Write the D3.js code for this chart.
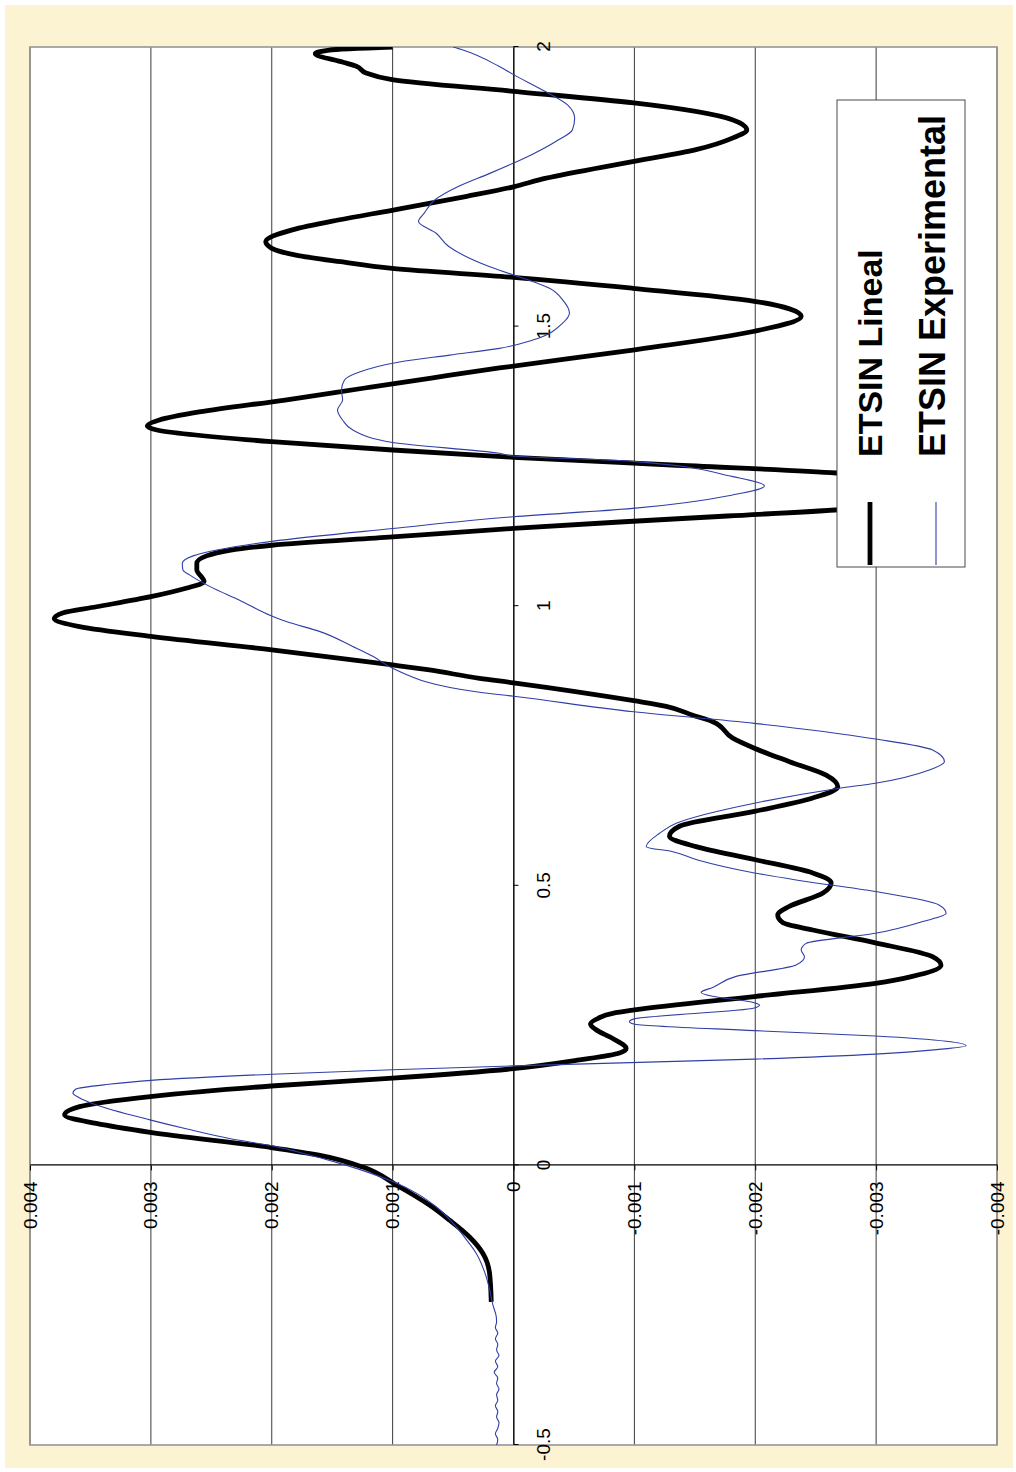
<!DOCTYPE html>
<html>
<head>
<meta charset="utf-8">
<script src="https://cdn.jsdelivr.net/npm/d3@7"></script>
<style>
  html, body { margin: 0; padding: 0; background: #ffffff; }
  svg { display: block; }
  text { font-family: "Liberation Sans", Arial, sans-serif; }
</style>
</head>
<body>
<div id="chart"></div>
<script>
// Axis ticks and their printed labels
const xTicks = [-0.5, 0, 0.5, 1, 1.5, 2];
const xTickLabels = ["-0.5", "0", "0.5", "1", "1.5", "2"];
const yTicks = [0.004, 0.003, 0.002, 0.001, 0, -0.001, -0.002, -0.003, -0.004];
const yTickLabels = ["0.004", "0.003", "0.002", "0.001", "0", "-0.001", "-0.002", "-0.003", "-0.004"];

const seriesNames = ["ETSIN Lineal", "ETSIN Experimental"];

// ETSIN Lineal: [x, y]
const linealData = [
  [-0.244, 0.184e-3], [-0.193, 0.198e-3], [-0.157, 0.254e-3], [-0.128, 0.364e-3],
  [-0.098, 0.529e-3], [-0.071, 0.695e-3], [-0.035, 0.970e-3], [-0.003, 1.246e-3],
  [0.018, 1.60e-3], [0.032, 2.004e-3], [0.059, 3.005e-3], [0.075, 3.452e-3],
  [0.090, 3.714e-3], [0.105, 3.590e-3], [0.123, 3.005e-3], [0.142, 2.004e-3],
  [0.156, 1.000e-3], [0.173, 0], [0.1885, -0.546e-3], [0.201, -0.877e-3],
  [0.209, -0.932e-3], [0.227, -0.821e-3], [0.243, -0.680e-3], [0.253, -0.637e-3],
  [0.263, -0.700e-3], [0.272, -0.821e-3], [0.278, -1.0e-3], [0.302, -1.993e-3],
  [0.3255, -2.994e-3], [0.338, -3.30e-3], [0.358, -3.537e-3], [0.373, -3.47e-3],
  [0.398, -2.994e-3], [0.421, -2.476e-3], [0.434, -2.228e-3], [0.448, -2.186e-3],
  [0.463, -2.28e-3], [0.487, -2.56e-3], [0.505, -2.628e-3], [0.523, -2.476e-3],
  [0.547, -1.993e-3], [0.570, -1.511e-3], [0.5885, -1.29e-3], [0.6065, -1.373e-3],
  [0.633, -1.993e-3], [0.657, -2.476e-3], [0.677, -2.683e-3], [0.698, -2.587e-3],
  [0.722, -2.283e-3], [0.746, -1.993e-3], [0.764, -1.814e-3], [0.7935, -1.648e-3],
  [0.805, -1.483e-3], [0.821, -1.263e-3], [0.831, -0.995e-3], [0.863, 0],
  [0.871, 0.281e-3], [0.886, 0.695e-3], [0.895, 1.0e-3], [0.922, 2.0e-3],
  [0.946, 3.0e-3], [0.9635, 3.59e-3], [0.978, 3.80e-3], [0.988, 3.73e-3],
  [0.999, 3.45e-3], [1.017, 3.0e-3], [1.032, 2.71e-3], [1.044, 2.56e-3],
  [1.065, 2.62e-3], [1.077, 2.62e-3], [1.090, 2.54e-3], [1.100, 2.35e-3],
  [1.109, 2.0e-3], [1.124, 1.0e-3], [1.139, 0], [1.1506, -0.88e-3],
  [1.1613, -1.77e-3], [1.172, -2.66e-3], [1.1828, -3.23e-3], [1.197, -3.48e-3],
  [1.2096, -3.52e-3], [1.2221, -3.36e-3], [1.2307, -3.03e-3], [1.2382, -2.67e-3],
  [1.2525, -1.31e-3], [1.2663, 0], [1.2793, 1.0e-3], [1.2942, 2.0e-3],
  [1.3151, 2.95e-3], [1.3222, 3.03e-3], [1.333, 2.93e-3], [1.3473, 2.60e-3],
  [1.3687, 1.89e-3], [1.3902, 1.23e-3], [1.408, 0.68e-3], [1.426, 0.116e-3],
  [1.458, -0.987e-3], [1.4917, -1.993e-3], [1.518, -2.38e-3], [1.5453, -1.993e-3],
  [1.5685, -0.987e-3], [1.588, 0], [1.604, 1.005e-3], [1.616, 1.43e-3],
  [1.628, 1.80e-3], [1.640, 2.0e-3], [1.652, 2.05e-3], [1.673, 1.83e-3],
  [1.6906, 1.45e-3], [1.708, 1.005e-3], [1.733, 0.386e-3], [1.750, 0],
  [1.765, -0.26e-3], [1.7955, -0.996e-3], [1.8165, -1.51e-3], [1.8375, -1.816e-3],
  [1.8515, -1.93e-3], [1.8695, -1.816e-3], [1.900, -0.996e-3], [1.9207, 0],
  [1.9417, 1.005e-3], [1.9536, 1.22e-3], [1.9655, 1.30e-3], [1.9727, 1.41e-3],
  [1.988, 1.64e-3], [1.9946, 1.525e-3], [2.0, 1.0e-3]
];

// ETSIN Experimental: [x, y]
const experimentalData = [
  [-0.500, 0.14e-3], [-0.49, 0.13e-3], [-0.48, 0.15e-3], [-0.47, 0.13e-3],
  [-0.46, 0.12e-3], [-0.45, 0.14e-3], [-0.44, 0.13e-3], [-0.43, 0.15e-3],
  [-0.42, 0.13e-3], [-0.41, 0.14e-3], [-0.40, 0.12e-3], [-0.39, 0.14e-3],
  [-0.38, 0.13e-3], [-0.37, 0.16e-3], [-0.36, 0.13e-3], [-0.35, 0.15e-3],
  [-0.34, 0.12e-3], [-0.33, 0.14e-3], [-0.32, 0.13e-3], [-0.31, 0.15e-3],
  [-0.30, 0.13e-3], [-0.29, 0.15e-3], [-0.28, 0.14e-3], [-0.27, 0.143e-3],
  [-0.25, 0.17e-3], [-0.22, 0.20e-3], [-0.19, 0.24e-3], [-0.157, 0.309e-3],
  [-0.13, 0.40e-3], [-0.11, 0.474e-3], [-0.074, 0.64e-3], [-0.05, 0.80e-3],
  [-0.029, 1.0e-3], [0.0, 1.38e-3], [0.025, 1.80e-3], [0.035, 2.0e-3],
  [0.048, 2.35e-3], [0.065, 2.70e-3], [0.081, 3.0e-3], [0.108, 3.45e-3],
  [0.122, 3.60e-3], [0.129, 3.645e-3], [0.1365, 3.62e-3], [0.145, 3.35e-3],
  [0.152, 3.0e-3], [0.163, 2.0e-3], [0.171, 1.0e-3], [0.178, 0],
  [0.190, -1.993e-3], [0.199, -2.994e-3], [0.207, -3.5e-3], [0.214, -3.744e-3],
  [0.222, -3.58e-3], [0.2314, -2.994e-3], [0.241, -1.993e-3], [0.253, -0.995e-3],
  [0.257, -0.959e-3], [0.262, -1.0e-3], [0.2814, -1.993e-3], [0.2868, -2.035e-3],
  [0.291, -1.993e-3], [0.3025, -1.648e-3], [0.3094, -1.552e-3], [0.3183, -1.648e-3],
  [0.338, -1.842e-3], [0.3584, -2.338e-3], [0.3733, -2.407e-3], [0.385, -2.38e-3],
  [0.397, -2.42e-3], [0.415, -2.994e-3], [0.436, -3.385e-3], [0.4508, -3.579e-3],
  [0.4658, -3.52e-3], [0.4898, -2.994e-3], [0.5104, -2.338e-3], [0.523, -1.993e-3],
  [0.5462, -1.524e-3], [0.561, -1.318e-3], [0.570, -1.098e-3], [0.5939, -1.208e-3],
  [0.6117, -1.346e-3], [0.6477, -1.993e-3], [0.6745, -2.696e-3], [0.6835, -2.994e-3],
  [0.7071, -3.44e-3], [0.7219, -3.565e-3], [0.7428, -3.468e-3], [0.7625, -2.994e-3],
  [0.7905, -1.993e-3], [0.8112, -0.995e-3], [0.839, 0], [0.846, 0.281e-3],
  [0.889, 1.0e-3], [0.910, 1.16e-3], [0.928, 1.33e-3], [0.9545, 1.60e-3],
  [0.9725, 1.88e-3], [0.9825, 2.0e-3], [1.011, 2.27e-3], [1.035, 2.51e-3],
  [1.056, 2.68e-3], [1.065, 2.735e-3], [1.077, 2.74e-3], [1.090, 2.65e-3],
  [1.116, 2.0e-3], [1.139, 1.0e-3], [1.160, 0], [1.175, -0.987e-3],
  [1.199, -1.814e-3], [1.215, -2.076e-3], [1.2317, -1.814e-3], [1.259, -0.987e-3],
  [1.2686, 0], [1.2734, 0.116e-3], [1.2928, 1.0e-3], [1.3151, 1.329e-3],
  [1.333, 1.414e-3], [1.351, 1.456e-3], [1.3687, 1.414e-3], [1.3866, 1.423e-3],
  [1.4045, 1.398e-3], [1.4188, 1.274e-3], [1.4367, 0.943e-3], [1.449, 0.529e-3],
  [1.4611, 0.116e-3], [1.476, -0.16e-3], [1.5065, -0.408e-3], [1.5245, -0.463e-3],
  [1.5475, -0.408e-3], [1.5685, -0.298e-3], [1.583, -0.13e-3], [1.5922, 0],
  [1.607, 0.196e-3], [1.6437, 0.538e-3], [1.667, 0.640e-3], [1.688, 0.786e-3],
  [1.7025, 0.740e-3], [1.7263, 0.652e-3], [1.750, 0.462e-3], [1.774, 0.196e-3],
  [1.7925, 0], [1.807, -0.146e-3], [1.834, -0.373e-3], [1.8515, -0.487e-3],
  [1.8724, -0.506e-3], [1.896, -0.449e-3], [1.9207, -0.26e-3], [1.9506, 0],
  [1.9655, 0.121e-3], [1.995, 0.424e-3], [2.0, 0.5e-3]
];

const seriesData = [linealData, experimentalData];
const seriesColors = ["#000000", "#2f3fa6"];
const seriesWidths = [4.8, 1.1];

// Page and plot geometry (the chart is laid out landscape, then turned a quarter turn)
const pageW = 1016, pageH = 1472;
const plotLeft = 30, plotBottom = 1445;
const plotW = 1398;   // along x (drawn upward on the page)
const plotH = 967;    // along y (drawn across the page)

const svg = d3.select("#chart").append("svg")
  .attr("width", pageW).attr("height", pageH);

svg.append("rect").attr("x", 0).attr("y", 0)
  .attr("width", pageW).attr("height", pageH).attr("fill", "#ffffff");

// chart area background
svg.append("rect").attr("x", 5).attr("y", 5)
  .attr("width", 1008).attr("height", 1463)
  .attr("fill", "#fbf3d1");

const g = svg.append("g")
  .attr("transform", `translate(${plotLeft},${plotBottom}) rotate(-90)`);

const x = d3.scaleLinear().domain([-0.5, 2]).range([0, plotW]);
const y = d3.scaleLinear().domain([-0.004, 0.004]).range([plotH, 0]);

g.append("rect").attr("x", 0).attr("y", 0)
  .attr("width", plotW).attr("height", plotH).attr("fill", "#ffffff");

g.append("defs").append("clipPath").attr("id", "plotClip")
  .append("rect").attr("x", 0).attr("y", 0).attr("width", plotW).attr("height", plotH);

// horizontal gridlines
g.append("g").selectAll("line").data(yTicks).join("line")
  .attr("x1", 0).attr("x2", plotW)
  .attr("y1", d => y(d)).attr("y2", d => y(d))
  .attr("stroke", "#3a3a3a").attr("stroke-width", 1);

// plot frame
g.append("rect").attr("x", 0).attr("y", 0)
  .attr("width", plotW).attr("height", plotH)
  .attr("fill", "none").attr("stroke", "#959595").attr("stroke-width", 1.6);

// x axis along y = 0
const xAxis = d3.axisBottom(x)
  .tickValues(xTicks)
  .tickFormat((d, i) => xTickLabels[i])
  .tickSize(5).tickPadding(18).tickSizeOuter(0);

const gx = g.append("g").attr("transform", `translate(0,${y(0)})`).call(xAxis);
gx.select(".domain").attr("stroke", "#000").attr("stroke-width", 1.1);
gx.selectAll(".tick line").attr("stroke", "#000");
gx.selectAll(".tick text").attr("fill", "#000")
  .attr("font-size", 19).attr("font-family", "'Liberation Sans', Arial, sans-serif");

// y axis along x = 0
const yAxis = d3.axisLeft(y)
  .tickValues(yTicks)
  .tickFormat((d, i) => yTickLabels[i])
  .tickSize(5).tickPadding(11).tickSizeOuter(0);

const gy = g.append("g").attr("transform", `translate(${x(0)},0)`).call(yAxis);
gy.select(".domain").attr("stroke", "#000").attr("stroke-width", 1.1);
gy.selectAll(".tick line").attr("stroke", "#000");
gy.selectAll(".tick text").attr("fill", "#000")
  .attr("font-size", 19).attr("font-family", "'Liberation Sans', Arial, sans-serif");

// series
const line = d3.line()
  .x(d => x(d[0]))
  .y(d => y(d[1]))
  .curve(d3.curveMonotoneX);

const linesG = g.append("g").attr("clip-path", "url(#plotClip)");
seriesData.forEach((data, i) => {
  linesG.append("path")
    .datum(data)
    .attr("d", line)
    .attr("fill", "none")
    .attr("stroke", seriesColors[i])
    .attr("stroke-width", seriesWidths[i])
    .attr("stroke-linejoin", "round")
    .attr("stroke-linecap", "butt");
});

// legend
const legend = g.append("g").attr("transform", "translate(878,807)");
legend.append("rect").attr("x", 0).attr("y", 0)
  .attr("width", 467).attr("height", 128)
  .attr("fill", "#ffffff").attr("stroke", "#4a4a4a").attr("stroke-width", 1);

const rowY = [33, 99];
const textBase = [45, 108];
const textSize = [34, 36];
seriesNames.forEach((name, i) => {
  legend.append("line")
    .attr("x1", 2).attr("x2", 65)
    .attr("y1", rowY[i]).attr("y2", rowY[i])
    .attr("stroke", seriesColors[i])
    .attr("stroke-width", seriesWidths[i]);
  legend.append("text")
    .attr("x", 110).attr("y", textBase[i])
    .attr("font-size", textSize[i]).attr("font-weight", "bold")
    .attr("fill", "#000")
    .text(name);
});
</script>
</body>
</html>
